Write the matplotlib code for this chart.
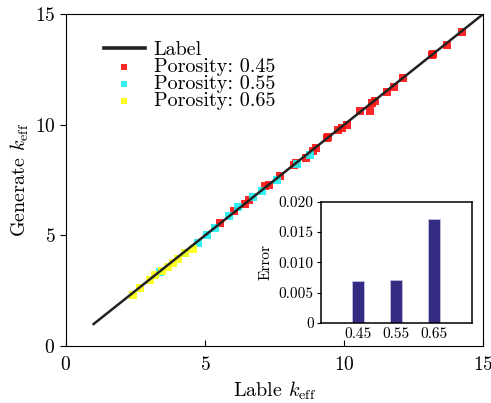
import matplotlib
matplotlib.use('Agg')
import matplotlib.pyplot as plt
from matplotlib.ticker import FuncFormatter

plt.rcParams['font.family'] = ['cmr10', 'DejaVu Serif']
plt.rcParams['mathtext.fontset'] = 'cm'
plt.rcParams['axes.formatter.use_mathtext'] = True

# predicted vs label k_eff for the three porosities
label_045 = [5.56, 6.05, 6.44, 6.60, 7.16, 7.30, 7.70, 8.20, 8.28, 8.63, 8.90,
             9.00, 9.38, 9.43, 9.80, 9.92, 10.10, 10.58, 10.94, 11.02, 11.12,
             11.54, 11.80, 12.13, 13.15, 13.20, 13.70, 14.23]
gen_045 = [5.57, 6.11, 6.42, 6.62, 7.23, 7.28, 7.70, 8.18, 8.26, 8.52, 8.83,
           8.96, 9.39, 9.43, 9.76, 9.84, 9.99, 10.63, 10.63, 10.99, 11.08,
           11.49, 11.69, 12.10, 13.15, 13.22, 13.60, 14.18]
label_055 = [3.38, 4.28, 4.75, 5.06, 5.35, 5.87, 6.20, 6.74, 7.05, 7.58, 8.30, 8.78]
gen_055 = [3.36, 4.19, 4.64, 5.02, 5.33, 5.87, 6.27, 6.75, 7.02, 7.50, 8.25, 8.63]
label_065 = [2.42, 2.66, 3.02, 3.20, 3.45, 3.68, 3.86, 4.04, 4.30, 4.58]
gen_065 = [2.30, 2.61, 2.98, 3.21, 3.40, 3.58, 3.74, 3.96, 4.22, 4.41]
ideal = [1, 15]

porosity = ['0.45', '0.55', '0.65']
error = [0.0069, 0.0071, 0.0172]

fig = plt.figure(figsize=(4.91, 4.03), dpi=100)
ax = fig.add_axes([0.134, 0.141, 0.850, 0.824])

ax.plot(ideal, ideal, color='#222222', lw=1.8, label='Label', zorder=3)
ax.scatter(label_045, gen_045, s=26, marker='s', color='#ff1010', lw=0,
           alpha=0.9, label='Porosity: 0.45', zorder=2)
ax.scatter(label_055, gen_055, s=26, marker='s', color='#20f0f0', lw=0,
           alpha=0.9, label='Porosity: 0.55', zorder=2)
ax.scatter(label_065, gen_065, s=26, marker='s', color='#ffff10', lw=0,
           alpha=0.9, label='Porosity: 0.65', zorder=2)

ax.set_xlim(0, 15)
ax.set_ylim(0, 15)
ax.set_xticks([0, 5, 10, 15])
ax.set_yticks([0, 5, 10, 15])
ax.tick_params(axis='x', direction='in', length=4, labelsize=14, pad=7)
ax.tick_params(axis='y', direction='out', length=4, labelsize=14)
ax.set_xlabel(r'Lable $k_{\mathrm{eff}}$', fontsize=14.5, labelpad=4)
ax.set_ylabel(r'Generate $k_{\mathrm{eff}}$', fontsize=14.5, labelpad=3)
leg = ax.legend(loc='upper left', bbox_to_anchor=(0.073, 0.944), frameon=False,
                fontsize=14.5, handlelength=2.0, handletextpad=0.45,
                labelspacing=-0.05, borderaxespad=0, markerscale=0.75)
leg.get_lines()[0].set_linewidth(2.6)

# inset: error per porosity
ins = fig.add_axes([0.653, 0.199, 0.308, 0.300])
ins.bar(range(len(error)), error, width=0.32, color='#342c82',
        edgecolor='#c4c0e0', linewidth=0.6)
ins.set_xlim(-1, 3)
ins.set_ylim(0, 0.02)
ins.set_xticks(range(len(error)))
ins.set_xticklabels(porosity)
ins.set_yticks([0, 0.005, 0.01, 0.015, 0.02])
ins.yaxis.set_major_formatter(FuncFormatter(lambda v, p: '0' if v == 0 else f'{v:.3f}'))
ins.tick_params(axis='x', length=0, labelsize=11, pad=3)
ins.tick_params(axis='y', direction='out', length=3, labelsize=11, pad=2)
ins.set_ylabel('Error', fontsize=11, labelpad=4)
for s in ins.spines.values():
    s.set_linewidth(1.1)

fig.savefig('out.png', dpi=100)
